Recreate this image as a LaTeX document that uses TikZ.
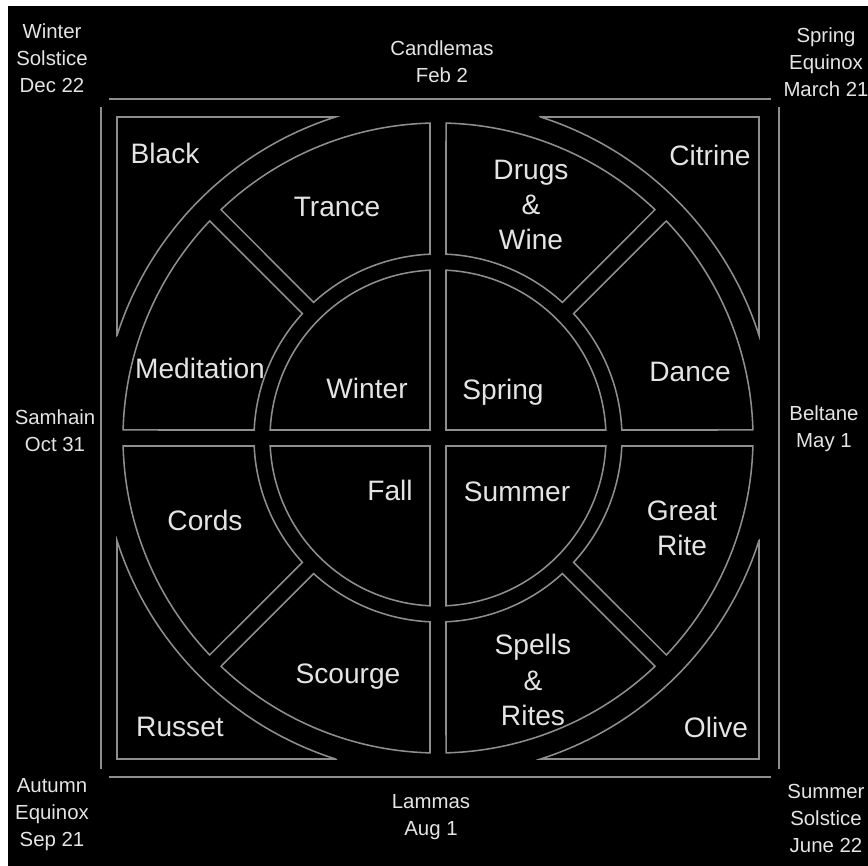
\documentclass[tikz,border=0pt]{standalone}
\usepackage{fontspec}
\setmainfont{Liberation Sans}
\usetikzlibrary{calc}
\definecolor{RimGray}{HTML}{8E8E8E}
\definecolor{LabelGray}{HTML}{E4E4E4}

\begin{document}
\begin{tikzpicture}[x=0.025cm,y=0.025cm,
    rim/.style={draw=RimGray,line width=1.1pt},
    seglabel/.style={text=LabelGray,font=\fontsize{20}{25}\selectfont,align=center},
    datelabel/.style={text=LabelGray,font=\fontsize{14.5}{19.2}\selectfont,align=center}]
  \useasboundingbox (0,0) rectangle (868,866);
  \fill[white] (0,0) rectangle (868,866);
  \fill[black] (8,0) rectangle (868,860);

  % outer frame, drawn as four strokes
  \draw[rim] (109,767) -- (771,767);
  \draw[rim] (109,89) -- (771,89);
  \draw[rim] (101,97) -- (101,759);
  \draw[rim] (779,97) -- (779,759);

  \begin{scope}[shift={(438,428)}]
    % corner fields
    \foreach \a in {0,90,180,270} {
      \draw[rim,rotate=\a] (102.6,321) -- (321,321) -- (321,102.6)
        arc[start angle=17.73,end angle=72.27,radius=337] -- cycle;
    }
    % eight tools of the ring
    \foreach \k in {0,...,7} {
      \pgfmathsetmacro{\oa}{45*\k+1.46}
      \pgfmathsetmacro{\ob}{45*\k+45-1.46}
      \pgfmathsetmacro{\ia}{45*\k+2.49}
      \pgfmathsetmacro{\ib}{45*\k+45-2.49}
      \draw[rim] (\oa:315) arc[start angle=\oa,end angle=\ob,radius=315]
        -- (\ib:184) arc[start angle=\ib,end angle=\ia,radius=184] -- cycle;
    }
    % four seasons
    \foreach \k in {0,1,2,3} {
      \draw[rim,rotate=90*\k] (8,8) -- (87.27:168)
        arc[start angle=87.27,end angle=2.73,radius=168] -- cycle;
    }
  \end{scope}

  % fields
  \node[seglabel] (black) at (165,713) {Black};
  \node[seglabel] (citrine) at (710,711) {Citrine};
  \node[seglabel] (russet) at (180,139) {Russet};
  \node[seglabel] (olive) at (716,139) {Olive};
  \node[seglabel] (trance) at (337,659) {Trance};
  \node[seglabel] (drugs) at (531,661) {Drugs\\\&\\Wine};
  \node[seglabel] (meditation) at (200,498) {Meditation};
  \node[seglabel] (dance) at (690,494) {Dance};
  \node[seglabel] (cords) at (205,346) {Cords};
  \node[seglabel] (greatrite) at (682,338) {Great\\Rite};
  \node[seglabel] (scourge) at (348,189) {Scourge};
  \node[seglabel] (spells) at (533,186) {Spells\\\&\\Rites};
  \node[seglabel] (winter) at (367,478) {Winter};
  \node[seglabel] (spring) at (503,474) {Spring};
  \node[seglabel] (fall) at (390,376) {Fall};
  \node[seglabel] (summer) at (517,374) {Summer};

  % festival dates
  \node[datelabel] (yule) at (52,808) {Winter\\Solstice\\Dec 22};
  \node[datelabel] (candlemas) at (442,804) {Candlemas\\Feb 2};
  \node[datelabel] (ostara) at (826,804) {Spring\\Equinox\\March 21};
  \node[datelabel] (samhain) at (55,435) {Samhain\\Oct 31};
  \node[datelabel] (beltane) at (824,437) {Beltane\\May 1};
  \node[datelabel] (autumn) at (52,51) {Autumn\\Equinox\\Sep 21};
  \node[datelabel] (lammas) at (431,49) {Lammas\\Aug 1};
  \node[datelabel] (litha) at (826,48) {Summer\\Solstice\\June 22};
\end{tikzpicture}
\end{document}
